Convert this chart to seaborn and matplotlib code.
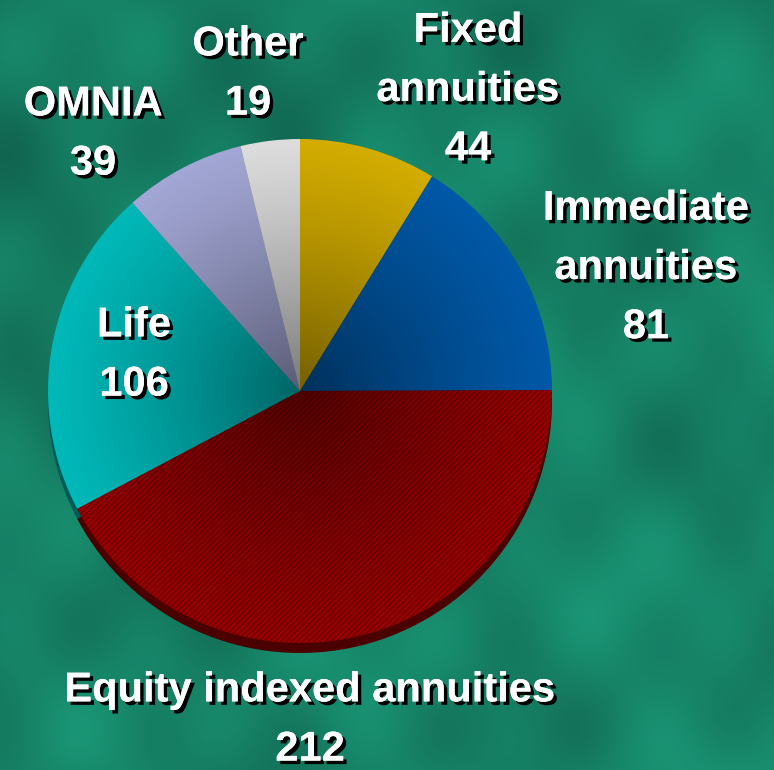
import numpy as np
import pandas as pd
import seaborn as sns
import matplotlib.pyplot as plt
import matplotlib.patheffects as pe
from matplotlib.patches import Circle

# Data
segments = ['Fixed\nannuities', 'Immediate\nannuities', 'Equity indexed annuities', 'Life', 'OMNIA', 'Other']
values = [44, 81, 212, 106, 39, 19]
face_colors = ['#d2ac00', '#0058a6', '#990000', '#00b8b8', '#a2a6d4', '#dcdcdc']
side_colors = ['#6e5a00', '#002c58', '#4a0000', '#005a5a', '#55587a', '#7c7c7c']

df = pd.DataFrame({'segment': segments, 'value': values})

W, H = 774, 770
# label centres in pixel coords from top-left (layout only)
label_xy = [(468, 90), (646, 268), (310, 720), (134, 355), (93, 134), (248, 74)]

sns.set_style('white')
plt.rcParams['font.family'] = ['Liberation Sans', 'DejaVu Sans']

fig = plt.figure(figsize=(W / 100, H / 100), dpi=100)
ax = fig.add_axes([0, 0, 1, 1])

# textured green backdrop
yy, xx = np.mgrid[0:H, 0:W]
tex = (0.45 + 0.18 * np.sin(xx / 70.0 + yy / 110.0) * np.cos(yy / 55.0 - xx / 140.0)
       + 0.12 * np.sin(xx / 23.0 + 1.3) * np.sin(yy / 31.0)
       + 0.20 * (xx + yy) / (W + H))
tex = np.clip(tex, 0, 1)
dark = np.array([14, 88, 70]) / 255
light = np.array([28, 160, 125]) / 255
bg = dark + (light - dark) * tex[..., None]
ax.imshow(bg, extent=(0, W, 0, H), origin='upper', zorder=0)

cx, cy, r = 300, H - 391, 252

# side of the pie (3D rim)
ax.pie(df['value'], colors=side_colors, startangle=90, counterclock=False,
       center=(cx, cy - 10), radius=r, wedgeprops={'linewidth': 0, 'zorder': 1})

# top face
wedges, _ = ax.pie(df['value'], colors=face_colors, startangle=90, counterclock=False,
                   center=(cx, cy), radius=r, wedgeprops={'linewidth': 0, 'zorder': 2})
for w in wedges:
    w.set_zorder(2)
plt.rcParams['hatch.linewidth'] = 0.6
wedges[2].set_hatch('//////')
wedges[2].set_edgecolor('#6e0000')
wedges[2].set_linewidth(0)

# radial shading: darker toward the centre
gy, gx = np.mgrid[-1:1:400j, -1:1:400j]
rr = np.clip(np.sqrt(gx ** 2 + gy ** 2), 0, 1)
shade = np.zeros((400, 400, 4))
shade[..., 3] = 0.45 * (1 - rr) ** 1.2
img = ax.imshow(shade, extent=(cx - r, cx + r, cy - r, cy + r), zorder=3)
clip = Circle((cx, cy), r, transform=ax.transData)
img.set_clip_path(clip)

ax.set_xlim(0, W)
ax.set_ylim(0, H)
ax.set_aspect('equal')
ax.axis('off')

shadow = [pe.withSimplePatchShadow(offset=(2.5, -2.5), shadow_rgbFace='black', alpha=1.0), pe.Normal()]
for (lx, ly), name, val in zip(label_xy, df['segment'], df['value']):
    ax.text(lx, H - ly, f'{name}\n{val}', ha='center', va='center', fontsize=30,
            fontweight='bold', color='white', linespacing=1.62, zorder=5,
            path_effects=shadow)

fig.savefig('out.png', dpi=100)
